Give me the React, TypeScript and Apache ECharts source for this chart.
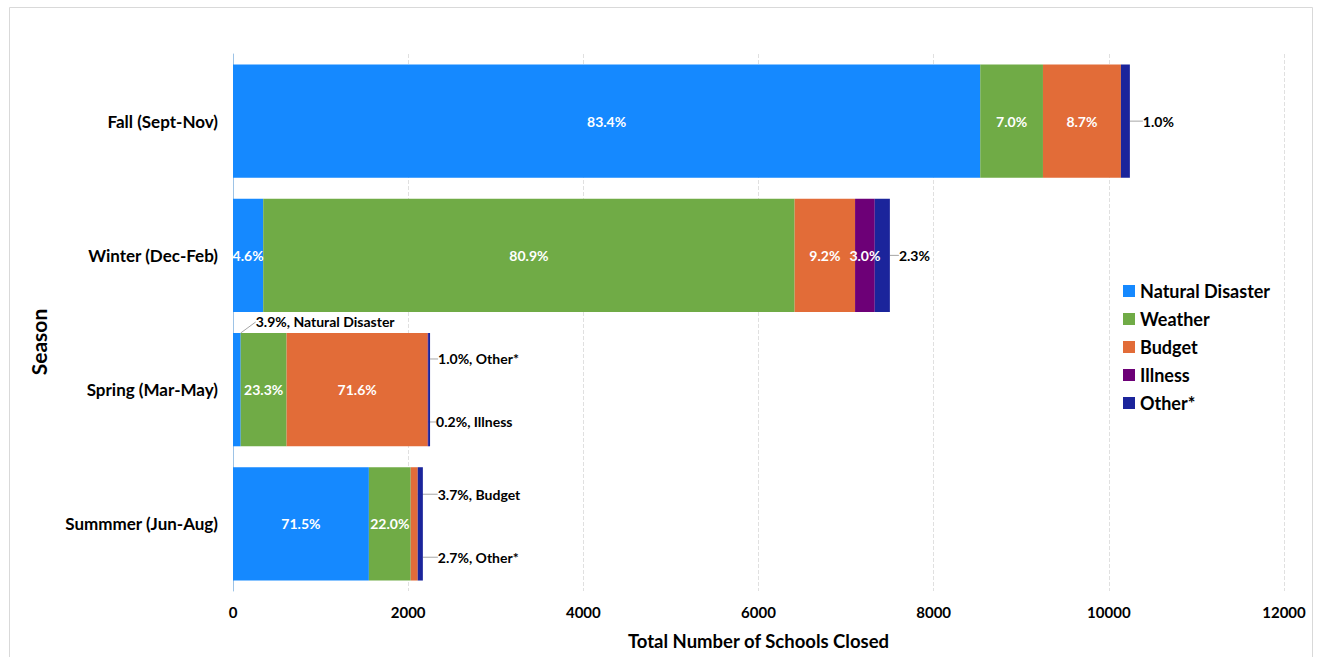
import React, { useEffect, useRef } from "react";
import * as echarts from "echarts";

const seasons = ["Fall (Sept-Nov)", "Winter (Dec-Feb)", "Spring (Mar-May)", "Summmer (Jun-Aug)"];
const seasonTotals = [10230, 7500, 2250, 2170];
const categoryNames = ["Natural Disaster", "Weather", "Budget", "Illness", "Other*"];
const naturalDisasterPct = [83.4, 4.6, 3.9, 71.5];
const weatherPct = [7.0, 80.9, 23.3, 22.0];
const budgetPct = [8.7, 9.2, 71.6, 3.7];
const illnessPct = [0, 3.0, 0.2, 0];
const otherPct = [1.0, 2.3, 1.0, 2.7];
const xTicks = [0, 2000, 4000, 6000, 8000, 10000, 12000];

const sharesBySeries = [naturalDisasterPct, weatherPct, budgetPct, illnessPct, otherPct];
const colors = ["#1589ff", "#70ab46", "#e26c38", "#6d0077", "#1b249b"];

// outside label placement: [seriesIndex][dataIndex] -> { withName, dx, dy }
const outside: Record<number, Record<number, { withName: boolean; dx: number; dy: number | null }>> = {
  0: { 2: { withName: true, dx: 15, dy: -11 } },
  2: { 3: { withName: true, dx: 20, dy: 27 } },
  3: { 2: { withName: true, dx: 8, dy: 89 } },
  4: {
    0: { withName: false, dx: 13, dy: null },
    1: { withName: false, dx: 9, dy: null },
    2: { withName: true, dx: 8, dy: 26 },
    3: { withName: true, dx: 15, dy: 90 },
  },
};

const FONT = "Lato";

export default function App() {
  const ref = useRef<HTMLDivElement>(null);
  useEffect(() => {
    if (!ref.current) return;
    const chart = echarts.init(ref.current, null, { renderer: "svg" });
    const series = categoryNames.map((name, si) => ({
      name,
      type: "bar",
      stack: "total",
      barCategoryGap: "15.6%",
      itemStyle: { color: colors[si] },
      labelLine: { show: false },
      labelLayout: (params: any) => {
        const cfg = outside[params.seriesIndex]?.[params.dataIndex];
        if (!cfg) return {};
        const r = params.rect;
        return {
          x: r.x + r.width + cfg.dx,
          y: cfg.dy == null ? r.y + r.height / 2 : r.y + cfg.dy,
          align: "left",
          verticalAlign: "middle",
        };
      },
      data: seasonTotals.map((total, di) => {
        const pct = sharesBySeries[si][di];
        const value = (total * pct) / 100;
        const out = outside[si]?.[di];
        const txt = pct.toFixed(1) + "%";
        if (pct === 0) return { value, label: { show: false } };
        if (out) {
          return {
            value,
            label: {
              show: true,
              position: "right",
              formatter: out.withName ? `${txt}, ${name}` : txt,
              color: "#000",
              fontWeight: "bold",
              fontSize: 14,
              fontFamily: FONT,
            },
            labelLine: { show: true, lineStyle: { color: "#a6a6a6", width: 1 } },
          };
        }
        return {
          value,
          label: {
            show: true,
            position: "inside",
            formatter: txt,
            color: "#fff",
            fontWeight: "bold",
            fontSize: 14,
            fontFamily: FONT,
          },
        };
      }),
    }));

    chart.setOption({
      animation: false,
      textStyle: { fontFamily: FONT },
      graphic: [
        {
          type: "rect",
          shape: { x: 9.5, y: 7.5, width: 1303, height: 670 },
          style: { fill: "none", stroke: "#d9d9d9", lineWidth: 1 },
          silent: true,
        },
        {
          type: "text",
          x: 38,
          y: 342,
          rotation: Math.PI / 2,
          style: {
            text: "Season",
            align: "center",
            verticalAlign: "middle",
            fontSize: 21,
            fontWeight: "bold",
            fontFamily: FONT,
            fill: "#000",
          },
        },
      ],
      legend: {
        orient: "vertical",
        left: 1118,
        top: 277,
        itemWidth: 12,
        itemHeight: 12,
        itemGap: 10,
        itemTextGap: 6,
        icon: "rect",
        data: categoryNames,
        textStyle: { fontSize: 18, fontWeight: "bold", color: "#000", fontFamily: FONT, lineHeight: 18 },
      },
      grid: { left: 233, right: 35, top: 54, bottom: 66, containLabel: false, outerBoundsMode: "none" },
      xAxis: {
        type: "value",
        min: xTicks[0],
        max: xTicks[xTicks.length - 1],
        interval: xTicks[1] - xTicks[0],
        name: "Total Number of Schools Closed",
        nameLocation: "middle",
        nameGap: 40,
        nameTextStyle: { fontSize: 18.5, fontWeight: "bold", color: "#000", fontFamily: FONT },
        axisLine: { show: false },
        axisTick: { show: false },
        axisLabel: {
          fontSize: 15,
          fontWeight: "bold",
          color: "#000",
          margin: 13,
          fontFamily: FONT,
          formatter: (v: number) => String(v),
        },
        splitLine: { show: true, lineStyle: { type: "dashed", color: "#e0e0e0" } },
      },
      yAxis: {
        type: "category",
        data: seasons,
        inverse: true,
        axisLine: { show: true, lineStyle: { color: "#9dc3e6", width: 1 } },
        axisTick: { show: false },
        axisLabel: { fontSize: 17, fontWeight: "bold", color: "#000", margin: 15, fontFamily: FONT },
      },
      series,
    });
    return () => chart.dispose();
  }, []);
  return (
    <div
      ref={ref}
      style={{ position: "fixed", left: 0, top: 0, width: 1319, height: 657, background: "#fff" }}
    />
  );
}
